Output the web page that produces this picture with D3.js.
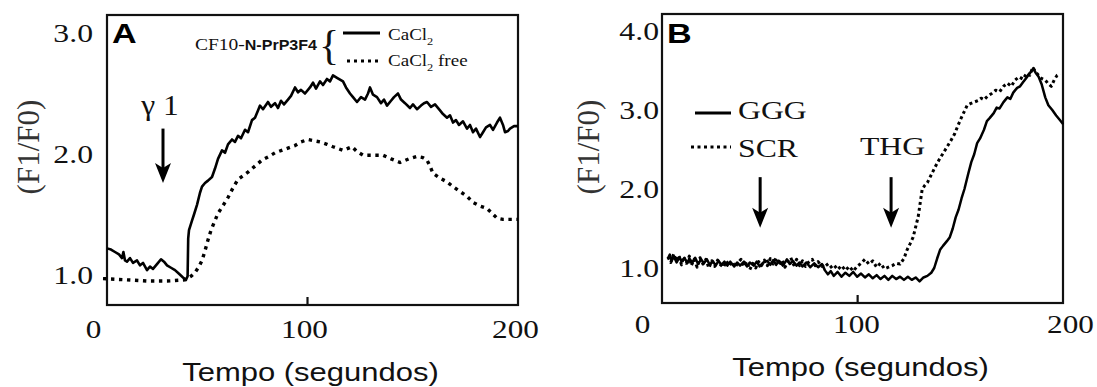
<!DOCTYPE html>
<html>
<head>
<meta charset="utf-8">
<script src="https://cdn.jsdelivr.net/npm/d3@7"></script>
<style>
    body { margin: 0; background: #fff; }
    svg { display: block; }
</style>
</head>
<body>
<svg id="Chart" width="1097" height="387"></svg>
<script>
// Panel A: CF10-N-PrP3F4 responses, [seconds, F1/F0]
var CaCl2 = [[0,1.22],[2,1.21],[4,1.19],[6,1.17],[7.5,1.14],[8.2,1.19],[9,1.12],[10,1.11],[11.5,1.14],[13,1.10],[15,1.12],[16.5,1.08],[18,1.10],[20,1.04],[21.5,1.07],[23,1.05],[25,1.09],[27,1.13],[28.5,1.11],[30,1.08],[32,1.06],[34,1.04],[36,1.01],[38,0.98],[39.5,0.96],[40.3,0.99],[40.6,1.30],[41,1.37],[42.5,1.45],[43.5,1.50],[45,1.58],[46.5,1.68],[47.5,1.73],[49,1.76],[50.5,1.78],[52.5,1.81],[54,1.88],[55.5,1.96],[57.5,2.03],[59,2.01],[60.5,2.08],[62.5,2.12],[64,2.10],[65.5,2.15],[67,2.13],[69,2.20],[70.5,2.18],[72.5,2.28],[74,2.30],[75.5,2.36],[76.5,2.40],[78,2.37],[80.5,2.43],[82,2.39],[84,2.42],[85.5,2.38],[87,2.44],[88.5,2.41],[90.5,2.45],[92,2.48],[94,2.55],[95.5,2.51],[97,2.53],[99,2.50],[101.5,2.55],[103,2.59],[104.5,2.54],[106.5,2.60],[108,2.57],[110,2.62],[111.5,2.60],[113,2.65],[115,2.63],[118,2.60],[119.5,2.55],[121.5,2.50],[123,2.47],[125,2.43],[127,2.47],[129,2.45],[130.5,2.50],[131.5,2.55],[133,2.49],[135,2.47],[137,2.42],[138.5,2.45],[140,2.40],[142,2.44],[143.5,2.47],[145.5,2.50],[147,2.45],[149,2.42],[151.5,2.38],[153,2.41],[155,2.37],[157,2.40],[158.5,2.42],[160,2.43],[162,2.39],[164,2.41],[166.5,2.36],[168,2.33],[170,2.30],[171.5,2.32],[173,2.26],[174.5,2.28],[176,2.24],[178,2.27],[180,2.21],[181.5,2.24],[183,2.18],[184.5,2.21],[186.5,2.14],[188,2.18],[189.5,2.22],[191.5,2.24],[193,2.20],[195,2.26],[196.5,2.30],[198,2.24],[199,2.18],[200.5,2.19],[201.5,2.21],[203.5,2.23],[205.5,2.23]];
var CaCl2Free = [[-2,0.97],[10,0.96],[20,0.95],[30,0.95],[39,0.96],[42,0.99],[44,1.02],[46,1.07],[47.5,1.12],[49,1.20],[50.5,1.29],[52,1.37],[54,1.45],[55.5,1.51],[57.5,1.56],[59,1.60],[60.5,1.64],[63,1.72],[65.5,1.79],[68,1.82],[70.5,1.85],[74,1.90],[77.5,1.95],[81,1.98],[84,2.01],[89,2.04],[94,2.07],[97,2.10],[100.5,2.12],[103.5,2.11],[106.5,2.10],[110,2.08],[113,2.06],[118,2.03],[122.5,2.06],[125,2.02],[128,1.99],[133,1.99],[138,1.99],[142,1.96],[146.5,1.93],[151,1.96],[155,1.98],[158,1.97],[160,1.95],[161.5,1.90],[163,1.84],[166.5,1.80],[170,1.77],[173,1.73],[176.5,1.69],[180,1.65],[183,1.60],[186.5,1.57],[190,1.55],[192.5,1.51],[195,1.47],[198,1.46],[201.5,1.46],[205.5,1.46]];
// Panel B: GGG and SCR responses, [seconds, F1/F0]
var GGG = [[3,1.12],[4,1.17],[5,1.09],[6,1.15],[7.5,1.07],[9,1.14],[10,1.08],[11.5,1.13],[13,1.06],[14,1.12],[15.5,1.07],[17,1.13],[18.5,1.05],[20,1.11],[21.5,1.06],[23,1.11],[24.5,1.04],[26,1.09],[27.5,1.03],[29,1.09],[30.5,1.04],[32,1.08],[33.5,1.03],[35,1.08],[37,1.02],[38.5,1.07],[40,1.03],[42,1.08],[43.5,1.02],[45,1.07],[47,1.03],[48.5,1.08],[50,1.02],[52,1.07],[54,1.09],[55.5,1.04],[57,1.10],[58.5,1.04],[60,1.09],[62,1.03],[64,1.11],[65.5,1.05],[67,1.09],[69,1.03],[70.5,1.07],[72,1.02],[74,1.07],[76,1.01],[78,1.06],[80,1.01],[82,1.05],[83.5,0.97],[85,0.92],[86.5,0.96],[88,0.90],[90,0.95],[92,0.89],[94,0.94],[96,0.90],[98,0.95],[100,0.89],[102,0.93],[104,0.88],[106,0.92],[108,0.87],[110,0.91],[112,0.86],[114,0.90],[116,0.85],[118,0.90],[120,0.86],[122,0.89],[124,0.85],[126,0.89],[128,0.85],[130,0.88],[132,0.83],[134,0.88],[136,0.90],[138,0.94],[139.5,1.00],[141,1.12],[142.5,1.23],[144,1.28],[146,1.34],[147.5,1.39],[149,1.50],[150.5,1.64],[152,1.74],[153.5,1.88],[155,2.00],[157,2.20],[158.5,2.34],[160,2.44],[161.5,2.58],[163,2.64],[165,2.75],[166.5,2.86],[168,2.90],[170,2.96],[171.5,3.03],[173,3.02],[175,3.10],[177,3.16],[178.5,3.14],[180,3.22],[182,3.28],[183.5,3.30],[185,3.35],[186.5,3.40],[187.7,3.44],[189,3.48],[190.3,3.53],[191.5,3.47],[193,3.42],[194.5,3.33],[196.4,3.16],[198,3.06],[200,3.00],[202,2.93],[204,2.87],[205.6,2.82]];
var SCR = [[3,1.14],[4.5,1.07],[6,1.18],[7,1.09],[8.5,1.16],[10,1.04],[11,1.14],[12.5,1.06],[14,1.15],[15,1.03],[16.5,1.11],[18,1.01],[19.5,1.13],[21,1.05],[22.5,1.11],[24,1.00],[25.5,1.09],[27,1.02],[28.5,1.10],[30,1.04],[31.5,1.01],[33,1.09],[34.5,1.03],[36,1.08],[37.5,1.01],[39,1.07],[40.5,1.11],[42,1.02],[43.5,1.08],[45,0.98],[46.5,1.06],[48,1.00],[49.5,1.08],[51,1.03],[52.5,1.10],[54,1.03],[55.5,1.12],[57,1.05],[58.5,1.13],[60,1.04],[61.5,1.10],[63,1.01],[64.5,1.08],[66,1.13],[67.5,1.04],[69,1.11],[70.5,1.03],[72,1.09],[73.5,1.02],[75,1.07],[77,1.11],[78.5,1.03],[80,1.08],[82,1.02],[84,1.06],[86,1.00],[88,1.04],[90,0.98],[92,1.03],[94,0.97],[96,1.02],[98,0.96],[100,1.02],[102,1.06],[104,1.11],[106,1.05],[108,1.09],[110,1.01],[112,1.06],[114,0.99],[116,1.01],[118,1.03],[120,1.06],[122,1.05],[124,1.12],[125.6,1.23],[127,1.30],[128.7,1.39],[130,1.52],[131.3,1.65],[132.3,1.82],[133.3,1.99],[134.5,2.04],[136,2.08],[138,2.18],[140,2.28],[142,2.37],[144,2.45],[146,2.53],[148,2.61],[150,2.70],[151.3,2.78],[153,2.88],[154.5,2.96],[156.4,3.06],[158,3.08],[160,3.10],[162,3.12],[163.5,3.15],[165,3.13],[167,3.18],[169,3.21],[171,3.25],[173,3.23],[175,3.30],[177,3.34],[179,3.30],[181,3.38],[183,3.42],[185,3.39],[187,3.47],[188.5,3.44],[190,3.54],[191.5,3.48],[193,3.44],[194.5,3.40],[196.4,3.38],[198,3.33],[199.5,3.30],[201,3.38],[202.5,3.44],[204,3.46]];
// Stimulus arrows: [seconds, start F1/F0, tip F1/F0]
var ArrowsA = [[28, 2.21, 1.76]];
var ArrowsB = [[50.3, 2.15, 1.51], [117.4, 2.15, 1.51]];
// Axis ticks and titles
var XTicks = [0, 100, 200];
var YTicksA = [1, 2, 3];
var YTicksB = [1, 2, 3, 4];
var XTitle = "Tempo (segundos)";
var YTitle = "(F1/F0)";

var Serif = "'Liberation Serif', 'Times New Roman', serif";
var Sans = "'Liberation Sans', Arial, sans-serif";
var Ink = "#111";
var Svg = d3.select("#Chart");

/** Stretch: widen text horizontally, like the scanned figure. */
function Stretch(Text, Factor) {
    Text.each(function () {
        var Node = d3.select(this);
        var X = +Node.attr("x") || 0, Y = +Node.attr("y") || 0;
        Node.attr("x", 0).attr("y", 0)
            .attr("transform", `translate(${X},${Y}) scale(${Factor},1)`);
    });
    return Text;
}

/** DrawPanel: frame, axes, titles and series of one panel. */
function DrawPanel(P) {
    var X = d3.scaleLinear().domain([0, 205.5]).range([P.Left, P.Right]);
    var Y = d3.scaleLinear().domain(P.YRef).range(P.YPix);
    var LabelX = d3.scaleLinear().domain([0, 200]).range(P.XLabelRange);
    var G = Svg.append("g");
    // Frame
    G.append("rect").attr("x", P.Left).attr("y", P.Top)
        .attr("width", P.Right - P.Left).attr("height", P.Bottom - P.Top)
        .attr("fill", "none").attr("stroke", Ink).attr("stroke-width", 2.2);
    // Single inner tick at 100
    var Tick = G.append("g").attr("transform", `translate(0,${P.Bottom})`)
        .call(d3.axisBottom(X).tickValues([100]).tickSize(-8).tickFormat(""));
    Tick.select(".domain").remove();
    Tick.selectAll("line").attr("stroke", Ink).attr("stroke-width", 2.2);
    // X tick labels
    var XAxis = G.append("g").attr("transform", `translate(0,${P.Bottom})`)
        .call(d3.axisBottom(LabelX).tickValues(XTicks).tickSize(0).tickPadding(P.XPad).tickFormat(d3.format("d")));
    XAxis.select(".domain").remove();
    Stretch(XAxis.selectAll("text").attr("font-family", Serif).attr("font-size", 26).attr("fill", Ink), 1.2);
    // Y tick labels
    var YAxis = G.append("g").attr("transform", `translate(${P.Left},0)`)
        .call(d3.axisLeft(Y).tickValues(P.YTicks).tickSize(0).tickPadding(P.YPad).tickFormat(d3.format(".1f")));
    YAxis.select(".domain").remove();
    Stretch(YAxis.selectAll("text").attr("font-family", Serif).attr("font-size", 26).attr("fill", Ink), 1.22);
    // Titles
    Stretch(G.append("text").attr("x", (P.Left + P.Right) / 2 - 2).attr("y", P.XTitleY)
        .attr("text-anchor", "middle").attr("font-family", Sans).attr("font-size", 25).attr("fill", Ink)
        .text(XTitle), 1.24);
    G.append("text").attr("transform", `translate(${P.YTitleX},147) rotate(-90)`)
        .attr("dy", "0.35em").attr("text-anchor", "middle")
        .attr("font-family", Serif).attr("font-size", 31).attr("fill", "#333").text(YTitle);
    // Panel letter
    Stretch(G.append("text").attr("x", P.Left + 5).attr("y", 43)
        .attr("font-family", Sans).attr("font-weight", "bold").attr("font-size", 28).attr("fill", "#000")
        .text(P.Letter), 1.22);
    // Series
    var Line = d3.line().x((D) => X(D[0])).y((D) => Y(D[1]));
    P.Series.forEach((S) => {
        G.append("path").datum(S.Data).attr("d", Line)
            .attr("fill", "none").attr("stroke", "#000")
            .attr("stroke-width", S.Width).attr("stroke-linejoin", "round")
            .attr("stroke-dasharray", S.Dash);
    });
    // Arrows
    P.Arrows.forEach((A) => {
        var Px = X(A[0]), Y0 = Y(A[1]), Y1 = Y(A[2]);
        G.append("line").attr("x1", Px).attr("x2", Px).attr("y1", Y0).attr("y2", Y1 - 14)
            .attr("stroke", "#000").attr("stroke-width", 3);
        G.append("path").attr("d", `M${Px - 8},${Y1 - 20} L${Px},${Y1 - 15} L${Px + 8},${Y1 - 20} L${Px},${Y1} Z`)
            .attr("fill", "#000");
    });
    return { X: X, Y: Y, G: G };
}

var PanelA = DrawPanel({
    Letter: "A", Left: 107, Right: 518, Top: 15, Bottom: 305,
    YRef: [1, 3], YPix: [275, 33], YTicks: YTicksA, YPad: 14, XPad: 15,
    XLabelRange: [93, 515], XTitleY: 381, YTitleX: 28,
    Series: [{ Data: CaCl2, Width: 2.6, Dash: null }, { Data: CaCl2Free, Width: 3.4, Dash: "3.4 4.6" }],
    Arrows: ArrowsA
});
var PanelB = DrawPanel({
    Letter: "B", Left: 662, Right: 1063, Top: 14, Bottom: 303,
    YRef: [1, 4], YPix: [268, 31], YTicks: YTicksB, YPad: 3, XPad: 12,
    XLabelRange: [642, 1070], XTitleY: 376, YTitleX: 588,
    Series: [{ Data: GGG, Width: 2.5, Dash: null }, { Data: SCR, Width: 3, Dash: "3 3" }],
    Arrows: ArrowsB
});

// Panel A annotations
Stretch(PanelA.G.append("text").attr("x", 160).attr("y", 115).attr("text-anchor", "middle")
    .attr("font-family", Serif).attr("font-size", 30).attr("fill", Ink).text("γ 1"), 1.05);
var LegendA = PanelA.G.append("text").attr("x", 195).attr("y", 50)
    .attr("textLength", 122).attr("lengthAdjust", "spacingAndGlyphs").attr("fill", Ink);
LegendA.append("tspan").attr("font-family", Serif).attr("font-size", 17).text("CF10-");
LegendA.append("tspan").attr("font-family", Sans).attr("font-weight", "bold").attr("font-size", 14).text("N-PrP3F4");
PanelA.G.append("text").attr("x", 319).attr("y", 59).attr("font-family", Serif)
    .attr("font-size", 42).attr("fill", Ink).text("{");
PanelA.G.append("line").attr("x1", 343).attr("x2", 380).attr("y1", 33).attr("y2", 33)
    .attr("stroke", "#000").attr("stroke-width", 2.8);
PanelA.G.append("line").attr("x1", 347).attr("x2", 380).attr("y1", 61).attr("y2", 61)
    .attr("stroke", "#000").attr("stroke-width", 3).attr("stroke-dasharray", "3 4");
[["CaCl", "2", "", 40], ["CaCl", "2", " free", 66]].forEach((L) => {
    var T = PanelA.G.append("text").attr("x", 388).attr("y", L[3])
        .attr("font-family", Serif).attr("font-size", 17).attr("fill", Ink);
    T.append("tspan").text(L[0]);
    T.append("tspan").attr("font-size", 11).attr("dy", 5).text(L[1]);
    if (L[2]) T.append("tspan").attr("dy", -5).text(L[2]);
    Stretch(T, 1.12);
});

// Panel B annotations
PanelB.G.append("line").attr("x1", 695).attr("x2", 731).attr("y1", 113).attr("y2", 113)
    .attr("stroke", "#000").attr("stroke-width", 2.8);
PanelB.G.append("line").attr("x1", 691).attr("x2", 731).attr("y1", 147).attr("y2", 147)
    .attr("stroke", "#000").attr("stroke-width", 3).attr("stroke-dasharray", "3 3.5");
[["GGG", 738, 119], ["SCR", 738, 157], ["THG", 860, 155]].forEach((L) => {
    Stretch(PanelB.G.append("text").attr("x", L[1]).attr("y", L[2])
        .attr("font-family", Serif).attr("font-size", 26).attr("fill", Ink).text(L[0]), 1.22);
});
</script>
</body>
</html>
